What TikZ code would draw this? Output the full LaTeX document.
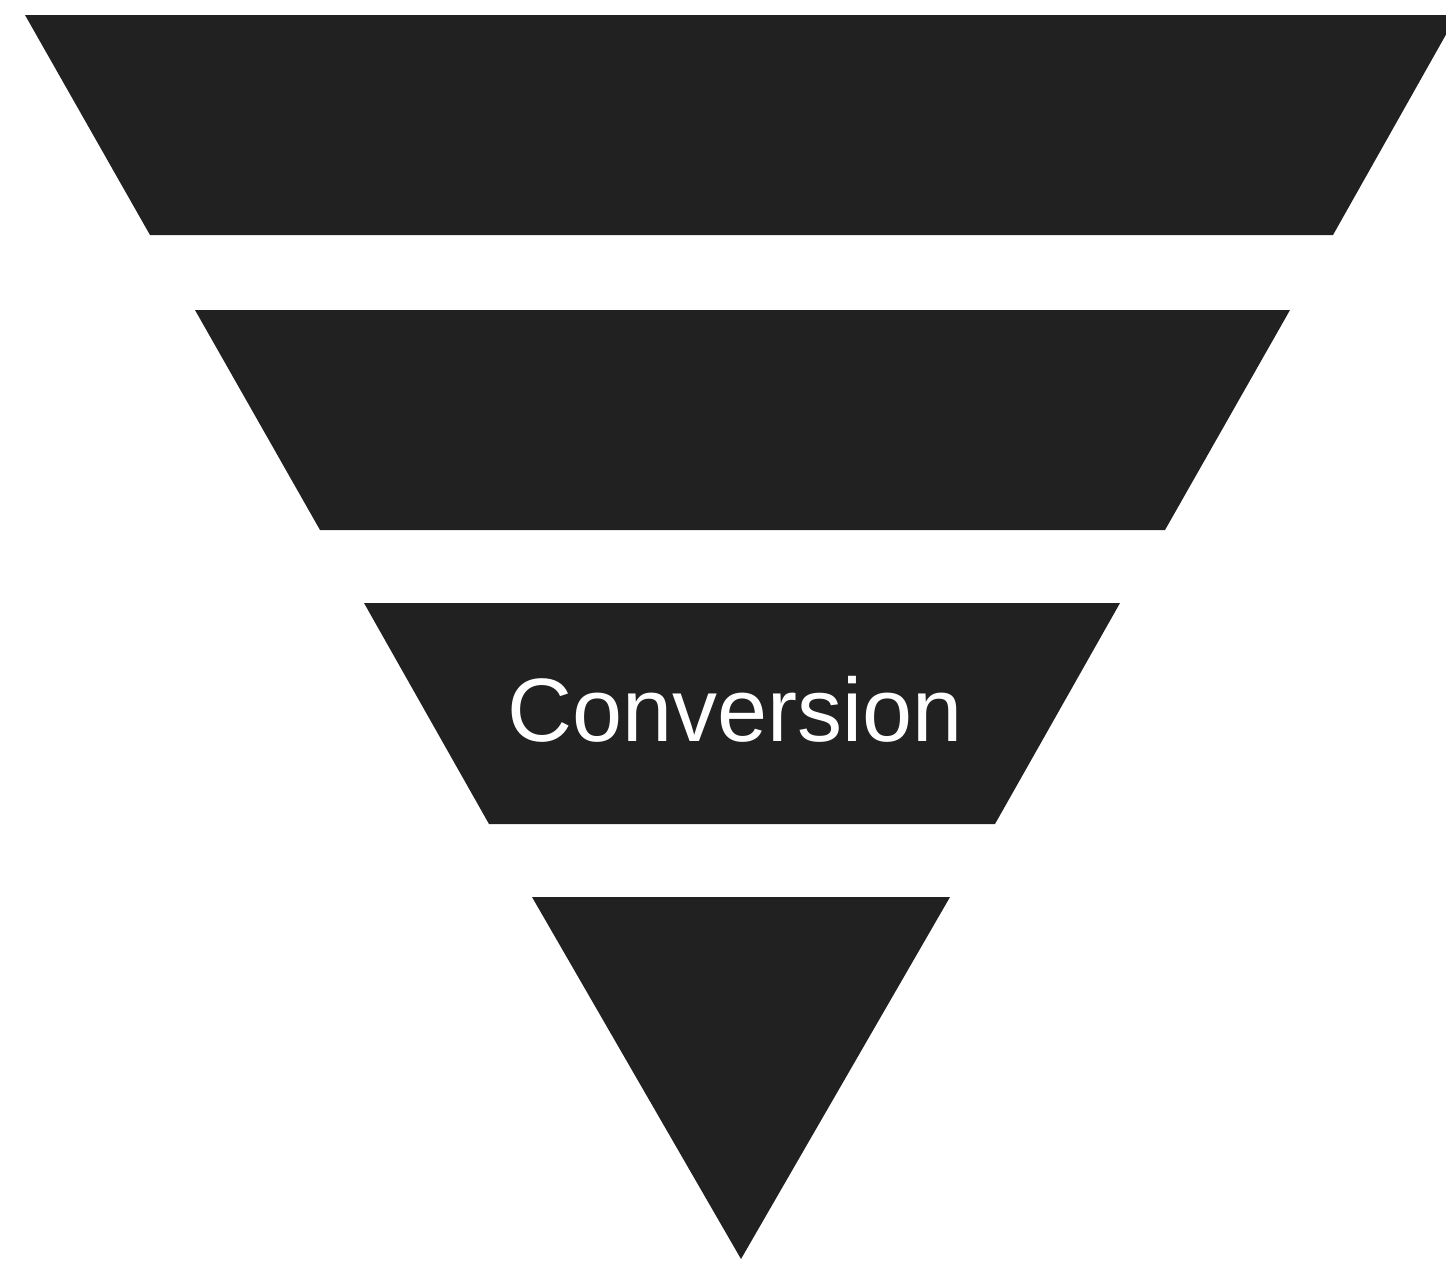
\documentclass[tikz,border=0pt]{standalone}
\usepackage{fontspec}
\setmainfont{Liberation Sans}
\definecolor{funnel}{RGB}{33,33,33}
\begin{document}
\begin{tikzpicture}[x=1pt,y=-1pt,
  stage/.style={fill=funnel,draw=none},
  label/.style={text=white,inner sep=0pt,anchor=base,font=\fontsize{90}{90}\selectfont}]
\useasboundingbox (0,0) rectangle (1446,1261);
\clip (0,0) rectangle (1446,1261);
\fill[stage] (25,15) -- (1457,15) -- (1333,235) -- (150,235) -- cycle;
\fill[stage] (195,310) -- (1290,310) -- (1165,530) -- (320,530) -- cycle;
\fill[stage] (364,603) -- (1120,603) -- (995,824) -- (489,824) -- cycle;
\fill[stage] (532,897) -- (950,897) -- (741,1259) -- cycle;
\node[label] (conv) at (735,741) {Conversion};
\end{tikzpicture}
\end{document}
